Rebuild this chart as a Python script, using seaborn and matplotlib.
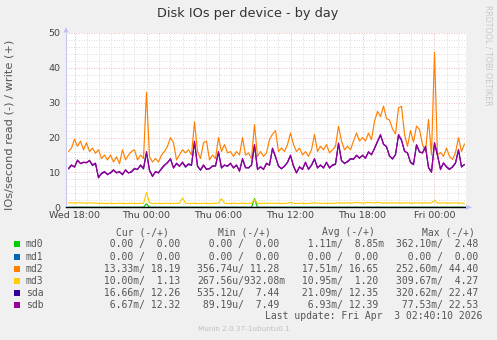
import numpy as np
import pandas as pd
import matplotlib
matplotlib.use("Agg")
import matplotlib.pyplot as plt
import matplotlib.dates as mdates
from matplotlib.ticker import MultipleLocator
from matplotlib.patches import Rectangle, Polygon
import seaborn as sns

# ---------------- data ----------------
times = pd.date_range("2026-04-01 17:30", periods=133, freq="15min")

devices = ["md0", "md1", "md2", "md3", "sda", "sdb"]
colors = ["#00CC00", "#0066B3", "#FF8000", "#FFCC00", "#330099", "#990099"]

md0 = [0, 0, 0, 0, 0, 0, 0, 0, 0, 0,
       0, 0, 0, 0, 0, 0, 0, 0, 0, 0,
       0, 0, 0, 0, 0, 0, 1.0, 0, 0, 0,
       0, 0, 0, 0, 0, 0, 0, 0, 0, 0,
       0, 0, 0, 0, 0, 0, 0, 0, 0, 0,
       0, 0, 0, 0, 0, 0, 0, 0, 0, 0,
       0, 0, 2.48, 0, 0, 0, 0, 0, 0, 0,
       0, 0, 0, 0, 0, 0, 0, 0, 0, 0,
       0, 0, 0, 0, 0, 0, 0, 0, 0, 0,
       0, 0, 0, 0, 0, 0, 0, 0, 0, 0,
       0, 0, 0, 0, 0, 0, 0, 0, 0, 0,
       0, 0, 0, 0, 0, 0, 0, 0, 0, 0,
       0, 0, 0, 0, 0, 0, 0, 0, 0, 0,
       0, 0, 0]
md1 = [0, 0, 0, 0, 0, 0, 0, 0, 0, 0,
       0, 0, 0, 0, 0, 0, 0, 0, 0, 0,
       0, 0, 0, 0, 0, 0, 0, 0, 0, 0,
       0, 0, 0, 0, 0, 0, 0, 0, 0, 0,
       0, 0, 0, 0, 0, 0, 0, 0, 0, 0,
       0, 0, 0, 0, 0, 0, 0, 0, 0, 0,
       0, 0, 0, 0, 0, 0, 0, 0, 0, 0,
       0, 0, 0, 0, 0, 0, 0, 0, 0, 0,
       0, 0, 0, 0, 0, 0, 0, 0, 0, 0,
       0, 0, 0, 0, 0, 0, 0, 0, 0, 0,
       0, 0, 0, 0, 0, 0, 0, 0, 0, 0,
       0, 0, 0, 0, 0, 0, 0, 0, 0, 0,
       0, 0, 0, 0, 0, 0, 0, 0, 0, 0,
       0, 0, 0]
md2 = [16, 17, 19.5, 17.5, 19, 16.5, 18.5, 16, 17, 15.5,
       16.5, 14, 15, 13.6, 15, 13, 14.5, 12.5, 16.5, 13.6,
       15, 16, 16.5, 13.6, 15, 14, 33, 14.5, 13, 14,
       13, 15, 16, 17.5, 20, 18.5, 13.6, 15, 16.5, 15.6,
       16.5, 15, 24.5, 16, 14, 18.5, 19, 13.6, 15, 14,
       20, 16, 18, 15.6, 16, 14.6, 16, 15, 20, 15,
       15.6, 14, 23.7, 14.6, 16, 14.6, 15.6, 19.4, 21, 22,
       16, 17, 16, 18, 21.3, 18, 16, 17, 15, 16,
       14.6, 16.5, 20.9, 16, 17.5, 16.5, 18, 15.6, 16.5, 17.5,
       23.3, 19, 16.5, 17.5, 16.5, 19, 21.3, 19, 20, 19,
       21.3, 19.4, 24.7, 27.5, 26, 29, 25.5, 25, 22.5, 21,
       28.5, 29, 21, 17.5, 22, 18.7, 23.3, 22.3, 18, 16,
       25.2, 15, 44.4, 15, 15.7, 14.6, 17, 14.6, 13.7, 15.7,
       20, 16, 18.19]
md3 = [1.3, 1.3, 1.2, 1.3, 1.3, 1.2, 1.2, 1.3, 1.2, 1.2,
       1.1, 1.2, 1.1, 1.1, 1.2, 1.1, 1.1, 1.2, 1.1, 1.1,
       1.1, 1.2, 1.1, 1.1, 1.2, 1.1, 4.27, 1.3, 1.1, 1.1,
       1.2, 1.1, 1.1, 1.2, 1.1, 1.1, 1.2, 1.1, 2.7, 1.2,
       1.1, 1.1, 1.2, 1.1, 1.1, 1.2, 1.1, 1.1, 1.1, 1.2,
       1.2, 2.5, 1.2, 1.1, 1.1, 1.2, 1.1, 1.1, 1.2, 1.1,
       1.1, 1.2, 2.2, 1.2, 1.1, 1.1, 1.2, 1.1, 1.2, 1.1,
       1.2, 1.1, 1.1, 1.2, 1.4, 1.2, 1.1, 1.1, 1.2, 1.1,
       1.1, 1.2, 1.3, 1.2, 1.1, 1.2, 1.1, 1.2, 1.1, 1.2,
       1.3, 1.2, 1.2, 1.3, 1.2, 1.3, 1.4, 1.3, 1.2, 1.3,
       1.4, 1.3, 1.3, 1.4, 1.3, 1.2, 1.3, 1.2, 1.3, 1.2,
       1.3, 1.2, 1.2, 1.3, 1.2, 1.2, 1.3, 1.2, 1.2, 1.3,
       1.2, 1.3, 2.0, 1.2, 1.2, 1.3, 1.2, 1.2, 1.2, 1.3,
       1.2, 1.2, 1.13]
sda = [11.0, 12.0, 11.6, 13.4, 12.6, 12.8, 12.9, 13.3, 12.0, 12.5,
       8.6, 9.6, 10.1, 9.5, 9.8, 10.6, 10.0, 10.1, 9.5, 10.6,
       9.9, 10.1, 11.0, 10.9, 12.0, 11.0, 15.7, 10.7, 9.0, 10.1,
       10.0, 11.0, 12.0, 12.9, 13.8, 11.4, 12.5, 11.9, 12.8, 11.5,
       12.3, 12.0, 18.7, 11.9, 10.6, 12.0, 11.0, 11.0, 11.9, 11.8,
       15.7, 11.4, 12.0, 11.9, 12.5, 11.4, 12.0, 10.5, 13.8, 11.3,
       11.4, 12.0, 17.8, 11.0, 11.5, 11.0, 12.5, 12.2, 16.8, 14.4,
       11.9, 11.0, 11.9, 12.8, 14.8, 11.9, 10.0, 11.5, 11.0, 12.8,
       11.0, 12.0, 13.8, 11.4, 12.0, 11.4, 12.8, 11.4, 12.0, 12.3,
       18.2, 13.3, 12.7, 13.0, 13.8, 13.9, 14.8, 14.2, 14.8, 14.2,
       15.8, 15.2, 16.8, 18.8, 20.6, 18.2, 17.3, 14.8, 13.8, 15.2,
       20.6, 19.2, 16.2, 15.5, 13.0, 12.4, 17.8, 15.8, 15.7, 17.3,
       11.5, 10.2, 18.3, 14.8, 11.0, 12.6, 11.7, 11.0, 11.5, 12.6,
       16.4, 11.7, 12.26]
sdb = [11.2, 12.2, 11.5, 13.6, 12.5, 13, 12.7, 13.5, 12.2, 12.7,
       8.4, 9.8, 10.3, 9.3, 10, 10.8, 9.8, 10.3, 9.3, 10.8,
       9.8, 10.3, 11.2, 10.8, 12.2, 11.2, 16, 10.5, 8.8, 10.3,
       9.8, 11.2, 12.2, 12.7, 14, 11.2, 12.7, 11.7, 13, 11.7,
       12.5, 12.2, 19, 11.7, 10.8, 12.2, 10.8, 11.2, 11.7, 12,
       16, 11.2, 12.2, 11.7, 12.7, 11.2, 12.2, 10.3, 14, 11.5,
       11.2, 12.2, 18, 10.8, 11.7, 10.8, 12.7, 12, 17, 14.6,
       11.7, 11.2, 11.7, 13, 15, 11.7, 9.8, 11.7, 10.8, 13,
       10.8, 12.2, 14, 11.2, 12.2, 11.2, 13, 11.2, 12.2, 12.5,
       18.5, 13.5, 12.5, 13.2, 14, 13.7, 15, 14, 15, 14,
       16, 15, 17, 19, 20.9, 18, 17.5, 14.6, 14, 15,
       20.9, 19.4, 16, 15.7, 12.8, 12.2, 18, 16, 15.5, 17.5,
       11.3, 10, 18.6, 15, 10.8, 12.8, 11.5, 10.8, 11.7, 12.8,
       16.6, 11.5, 12.32]

cur_vals = ["  0.00 /  0.00", "  0.00 /  0.00", " 13.33m/ 18.19", " 10.00m/  1.13",
            " 16.66m/ 12.26", "  6.67m/ 12.32"]
min_vals = ["  0.00 /  0.00", "  0.00 /  0.00", "356.74u/ 11.28", "267.56u/932.08m",
            "535.12u/  7.44", " 89.19u/  7.49"]
avg_vals = ["  1.11m/  8.85m", "  0.00 /  0.00", " 17.51m/ 16.65", " 10.95m/  1.20",
            " 21.09m/ 12.35", "  6.93m/ 12.39"]
max_vals = ["362.10m/  2.48", "  0.00 /  0.00", "252.60m/ 44.40", "309.67m/  4.27",
            "320.62m/ 22.47", " 77.53m/ 22.53"]
headers = ["Cur (-/+)", "Min (-/+)", "Avg (-/+)", "Max (-/+)"]
x_tick_labels_fmt = "%a %H:%M"

title = "Disk IOs per device - by day"
ylabel = "IOs/second read (-) / write (+)"
last_update = "Last update: Fri Apr  3 02:40:10 2026"
footer = "Munin 2.0.37-1ubuntu0.1"
side_text = "RRDTOOL / TOBI OETIKER"

# ---------------- figure ----------------
sns.set_style("white")
plt.rcParams["font.family"] = ["DejaVu Sans"]

W, H = 497, 340
fig = plt.figure(figsize=(W / 100, H / 100), dpi=100, facecolor="#F0F0F0")


def fx(x):
    return x / W


def fy(y):
    return 1 - y / H


ax = fig.add_axes([fx(66), fy(207.3), 400 / W, 174.3 / H])
ax.set_facecolor("white")

series = {"md0": md0, "md1": md1, "md2": md2, "md3": md3, "sda": sda, "sdb": sdb}
df = pd.concat(
    [pd.DataFrame({"time": times, "value": vals, "device": name}) for name, vals in series.items()],
    ignore_index=True,
)
palette = dict(zip(devices, colors))
sns.lineplot(data=df, x="time", y="value", hue="device", hue_order=devices,
             palette=palette, linewidth=0.85, legend=False, estimator=None,
             ax=ax, zorder=3)

ax.set_xlim(pd.Timestamp("2026-04-01 17:17:30"), pd.Timestamp("2026-04-03 02:37:30"))
ax.set_ylim(0, 50)

ax.xaxis.set_major_locator(mdates.HourLocator(byhour=[0, 6, 12, 18]))
ax.xaxis.set_minor_locator(mdates.HourLocator(interval=1))
ax.xaxis.set_major_formatter(mdates.DateFormatter(x_tick_labels_fmt))
ax.yaxis.set_major_locator(MultipleLocator(10))
ax.yaxis.set_minor_locator(MultipleLocator(2))

ax.grid(which="minor", color="#D0D0D0", linestyle=(0, (1, 2)), linewidth=0.6, zorder=1)
ax.grid(which="major", color="#F0A0A0", linestyle=(0, (1, 2)), linewidth=0.6, zorder=2)
ax.set_axisbelow(True)

ax.tick_params(which="both", length=0, labelsize=6.8, labelcolor="#444444")
ax.tick_params(axis="x", pad=3)
ax.tick_params(axis="y", pad=4)
ax.set_xlabel("")
ax.set_ylabel("")

for s in ["top", "right"]:
    ax.spines[s].set_visible(False)
ax.spines["left"].set_color("#C8C8F0")
ax.spines["left"].set_linewidth(0.8)
ax.spines["bottom"].set_color("black")
ax.spines["bottom"].set_linewidth(1.0)
ax.spines["bottom"].set_zorder(5)

# axis arrows
fig.patches.append(Polygon([[fx(63.5), fy(32.5)], [fx(68.5), fy(32.5)], [fx(66), fy(27)]],
                           closed=True, transform=fig.transFigure, facecolor="#C0C0F0",
                           edgecolor="none"))
fig.patches.append(Polygon([[fx(466), fy(204.8)], [fx(466), fy(209.8)], [fx(472), fy(207.3)]],
                           closed=True, transform=fig.transFigure, facecolor="#C0C0F0",
                           edgecolor="none"))

# title, labels
fig.text(fx(248), fy(13.3), title, ha="center", va="center", fontsize=9.3, color="#333333")
fig.text(fx(10), fy(124.5), ylabel, ha="center", va="center", rotation=90,
         fontsize=8.2, color="#555555")
fig.text(fx(488), fy(5), side_text, ha="center", va="top", rotation=270,
         fontsize=5.7, color="#C8C8C8")

# legend table
mono = "DejaVu Sans Mono"
tcol = "#555555"
col_x = [98, 197.2, 296.4, 395.6]
head_x = [116, 218, 322, 422]
fs = 7.0
for hx, h in zip(head_x, headers):
    fig.text(fx(hx), fy(232.3), h, ha="left", va="center", family=mono, fontsize=fs, color=tcol)

row_y = [244.3, 256.6, 268.7, 280.6, 292.7, 304.7]
for i, name in enumerate(devices):
    y = row_y[i]
    fig.patches.append(Rectangle((fx(14), fy(y + 3)), 6 / W, 6 / H, transform=fig.transFigure,
                                 facecolor=colors[i], edgecolor="none"))
    fig.text(fx(26), fy(y), name, ha="left", va="center", family=mono, fontsize=fs, color=tcol)
    for cx, vals in zip(col_x, [cur_vals, min_vals, avg_vals, max_vals]):
        fig.text(fx(cx), fy(y), vals[i], ha="left", va="center", family=mono,
                 fontsize=fs, color=tcol)

fig.text(fx(482), fy(315.7), last_update, ha="right", va="center", family=mono,
         fontsize=fs, color=tcol)
fig.text(fx(243.5), fy(329), footer, ha="center", va="center", fontsize=5.2, color="#C0C0C0")

fig.savefig("out.png", dpi=100, facecolor=fig.get_facecolor())
